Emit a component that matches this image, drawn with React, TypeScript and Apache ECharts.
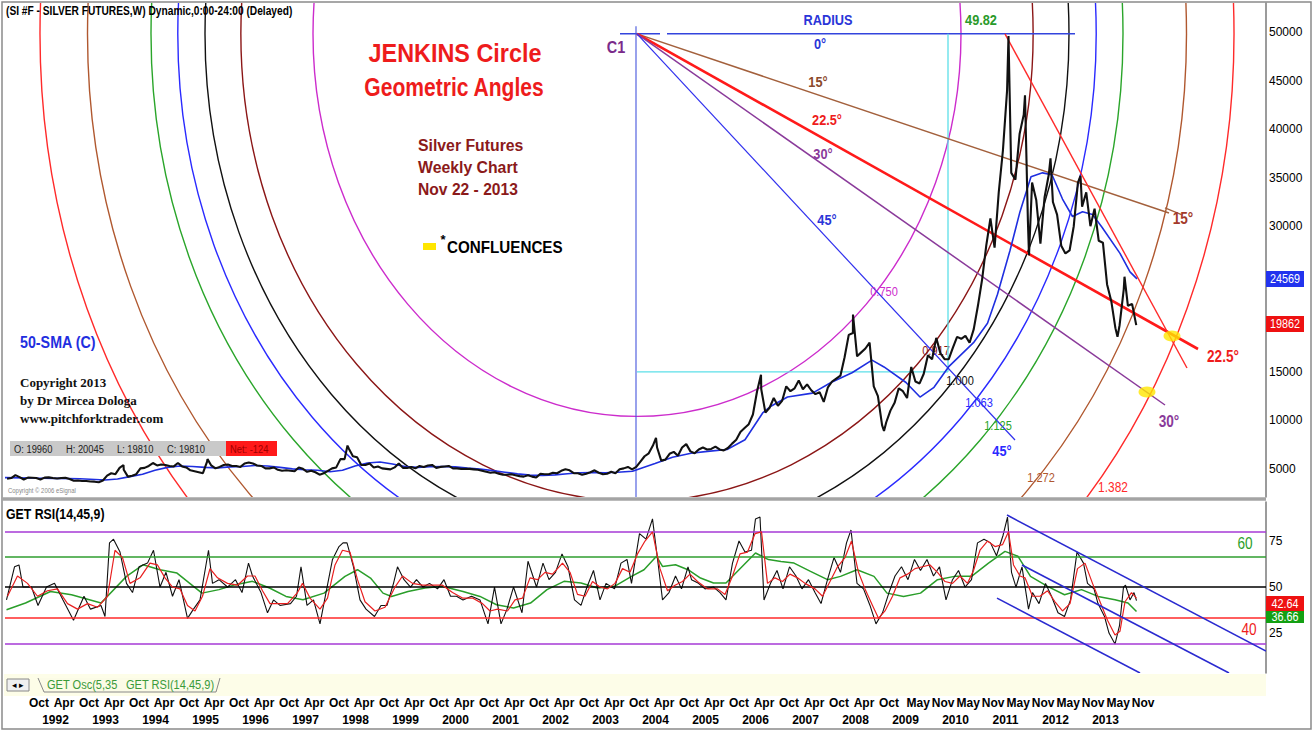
import React, { useEffect, useRef } from "react";
import * as echarts from "echarts";

// ---------------- DATA ----------------
// Silver futures, monthly closes (USD/oz) starting Apr 1991, ending Nov 2013
const PRICE_START = 1991.25;
const PRICE_MONTHLY = [
  3.98, 4.05, 4.35, 4.15, 3.9, 4.1, 4.08, 4.05, 3.9,
  4.1, 4.12, 4.05, 4.0, 4.05, 4.08, 3.95, 3.78, 3.8, 3.75, 3.75, 3.7,
  3.68, 3.62, 3.8, 4.3, 4.55, 4.45, 5.1, 4.9, 4.2, 4.3, 4.45, 5.05,
  5.1, 5.3, 5.6, 5.35, 5.45, 5.4, 5.3, 5.25, 5.6, 5.25, 5.15, 4.85,
  4.75, 4.65, 4.55, 5.75, 5.35, 5.05, 5.2, 5.4, 5.45, 5.3, 5.3, 5.2,
  5.55, 5.65, 5.55, 5.35, 5.3, 5.05, 5.05, 5.15, 4.9, 4.8, 4.85, 4.8,
  4.75, 5.15, 5.0, 4.7, 4.8, 4.65, 4.4, 4.55, 4.8, 5.05, 5.15, 6.0,
  6.0, 7.1, 6.3, 6.2, 5.4, 5.4, 5.55, 5.15, 5.25, 5.05, 5.0, 4.95,
  5.15, 5.55, 5.1, 5.1, 5.2, 5.05, 5.3, 5.2, 5.35, 5.4, 5.1, 5.2,
  5.25, 5.3, 5.05, 5.05, 5.0, 5.0, 5.0, 4.95, 4.9, 4.8, 4.7, 4.6,
  4.65, 4.5, 4.4, 4.4, 4.45, 4.35, 4.25, 4.2, 4.35, 4.2, 4.1, 4.5,
  4.45, 4.45, 4.6, 4.55, 4.8, 4.95, 4.85, 4.55, 4.55, 4.4, 4.5, 4.65,
  4.85, 4.6, 4.45, 4.5, 4.7, 4.55, 4.95, 5.05, 5.2, 4.95, 5.2, 5.75,
  6.3, 6.6, 7.4, 7.2, 5.85, 5.95, 6.55, 6.75, 6.35, 7.2, 7.55, 6.8,
  6.6, 7.0, 7.2, 7.0, 7.05, 7.3, 7.0, 6.9, 7.15, 7.6, 8.0, 8.8,
  9.2, 9.6, 10.6, 13.0, 13.2, 10.8, 11.3, 12.3, 11.5, 12.0, 13.5, 13.0,
  13.3, 14.1, 13.2, 13.7, 13.1, 12.7, 12.9, 11.9, 13.4, 14.0, 14.3, 14.6,
  16.5, 18.8, 19.0, 16.6, 17.0, 17.4, 18.0, 13.5, 12.5, 9.5, 9.8, 11.0,
  11.8, 13.3, 13.0, 12.3, 15.5, 14.0, 13.8, 14.8, 16.7, 16.3, 18.5, 16.9,
  16.3, 16.3, 17.5, 18.6, 18.4, 18.7, 18.0, 19.4, 21.8, 24.5, 28.0, 30.8,
  27.8, 33.5, 37.8, 44.0, 35.5, 34.8, 39.5, 41.5, 30.5, 34.5, 32.7, 28.2,
  33.0, 35.3, 32.5, 31.2, 28.0, 27.2, 27.5, 30.0, 34.5, 32.0, 33.5, 30.0,
  31.8, 28.5, 28.3, 24.0, 22.3, 19.5, 19.8, 23.5, 21.8, 22.0, 19.81,
];
// weekly extremes visible on the chart [decimal year, USD]
const PRICE_SPIKES: [number, number][] = [
  [1993.62, 5.4], [1995.3, 6.0], [1998.1, 7.4], [2004.27, 8.2], [2006.37, 14.7],
  [2008.21, 20.9], [2008.83, 8.9], [2011.32, 49.6], [2011.65, 43.5], [2011.73, 27.0],
  [2012.16, 37.0], [2012.76, 35.2], [2013.5, 18.6], [2013.64, 24.8],
];
// 50-week SMA (blue)
const SMA50: [number, number][] = [
  [1991.25, 4.1], [1991.75, 4.05], [1992.25, 4.02], [1992.75, 3.98], [1993.25, 3.85], [1993.5, 3.95],
  [1993.75, 4.2], [1994.0, 4.45], [1994.25, 4.85], [1994.5, 5.15], [1994.75, 5.3], [1995.0, 5.25],
  [1995.25, 5.15], [1995.5, 5.1], [1995.75, 5.2], [1996.0, 5.25], [1996.25, 5.35], [1996.5, 5.3],
  [1996.75, 5.15], [1997.0, 5.0], [1997.25, 4.9], [1997.5, 4.85], [1997.75, 4.7], [1998.0, 4.85],
  [1998.25, 5.3], [1998.5, 5.6], [1998.75, 5.7], [1999.0, 5.5], [1999.25, 5.25], [1999.5, 5.15],
  [1999.75, 5.22], [2000.0, 5.25], [2000.25, 5.2], [2000.5, 5.08], [2000.75, 4.98], [2001.0, 4.82],
  [2001.25, 4.65], [2001.5, 4.48], [2001.75, 4.35], [2002.0, 4.33], [2002.25, 4.38], [2002.5, 4.5],
  [2002.75, 4.6], [2003.0, 4.63], [2003.25, 4.6], [2003.5, 4.65], [2003.8, 4.75], [2004.25, 5.55],
  [2004.6, 6.2], [2004.97, 6.6], [2005.3, 6.8], [2005.69, 7.0], [2006.05, 8.0], [2006.41, 10.8],
  [2006.55, 11.4], [2006.9, 12.4], [2007.4, 12.8], [2007.77, 13.9], [2008.19, 14.9], [2008.59, 16.2],
  [2008.83, 15.5], [2009.27, 13.9], [2009.55, 12.4], [2009.83, 13.4], [2010.12, 15.5], [2010.62, 18.0],
  [2010.9, 20.0], [2011.1, 23.0], [2011.35, 27.5], [2011.55, 31.5], [2011.77, 35.1], [2012.0, 35.5],
  [2012.19, 35.3], [2012.4, 32.8], [2012.6, 31.0], [2012.8, 31.5], [2013.0, 31.2], [2013.19, 29.9],
  [2013.55, 27.2], [2013.75, 25.3], [2013.89, 24.57],
];
// RSI(14) black line
const RSI_MAIN: [number, number][] = [
  [1991.28, 43], [1991.44, 61], [1991.53, 62], [1991.61, 50], [1991.78, 50], [1991.91, 40], [1992.08, 50],
  [1992.24, 52], [1992.41, 43], [1992.62, 32], [1992.83, 45], [1992.96, 38], [1993.17, 40], [1993.25, 34],
  [1993.34, 74], [1993.42, 76], [1993.55, 69], [1993.68, 52], [1993.8, 47], [1993.93, 61], [1994.1, 63],
  [1994.22, 70], [1994.35, 50], [1994.47, 58], [1994.6, 45], [1994.73, 54], [1994.9, 33], [1995.02, 38],
  [1995.15, 43], [1995.32, 70], [1995.4, 52], [1995.53, 54], [1995.7, 50], [1995.86, 54], [1995.99, 47],
  [1996.12, 63], [1996.2, 56], [1996.37, 47], [1996.5, 36], [1996.62, 43], [1996.75, 40], [1996.96, 41],
  [1997.08, 45], [1997.17, 61], [1997.29, 40], [1997.42, 43], [1997.55, 30], [1997.67, 47], [1997.8, 65],
  [1997.93, 72], [1998.01, 74], [1998.09, 74], [1998.22, 61], [1998.35, 43], [1998.47, 38], [1998.64, 34],
  [1998.77, 40], [1998.89, 40], [1999.02, 52], [1999.1, 61], [1999.23, 54], [1999.36, 50], [1999.48, 54],
  [1999.61, 50], [1999.74, 52], [1999.9, 49], [2000.03, 54], [2000.16, 45], [2000.28, 45], [2000.41, 43],
  [2000.58, 45], [2000.75, 43], [2000.91, 30], [2001.04, 50], [2001.17, 30], [2001.29, 38], [2001.42, 50],
  [2001.59, 36], [2001.71, 64], [2001.88, 50], [2002.01, 63], [2002.13, 54], [2002.26, 58], [2002.39, 68],
  [2002.51, 61], [2002.64, 43], [2002.77, 40], [2002.89, 50], [2003.02, 59], [2003.15, 43], [2003.27, 52],
  [2003.44, 49], [2003.57, 63], [2003.69, 65], [2003.78, 52], [2003.94, 79], [2004.07, 76], [2004.2, 87],
  [2004.32, 61], [2004.4, 43], [2004.53, 47], [2004.66, 56], [2004.78, 49], [2004.91, 61], [2004.98, 54],
  [2005.12, 52], [2005.25, 49], [2005.42, 50], [2005.55, 47], [2005.67, 43], [2005.8, 63], [2005.93, 75],
  [2006.05, 69], [2006.18, 70], [2006.26, 87], [2006.35, 88], [2006.43, 43], [2006.56, 52], [2006.69, 59],
  [2006.81, 49], [2006.94, 61], [2007.07, 56], [2007.19, 49], [2007.32, 54], [2007.45, 47], [2007.57, 41],
  [2007.7, 54], [2007.83, 66], [2007.96, 58], [2008.08, 74], [2008.17, 81], [2008.29, 52], [2008.42, 49],
  [2008.55, 40], [2008.67, 30], [2008.8, 36], [2008.93, 47], [2009.05, 56], [2009.18, 61], [2009.31, 54],
  [2009.44, 65], [2009.56, 59], [2009.69, 65], [2009.82, 56], [2009.94, 61], [2010.07, 43], [2010.2, 54],
  [2010.32, 59], [2010.45, 50], [2010.58, 54], [2010.7, 74], [2010.83, 76], [2010.96, 74], [2011.08, 67],
  [2011.21, 78], [2011.3, 88], [2011.38, 58], [2011.47, 50], [2011.59, 61], [2011.72, 38], [2011.8, 47],
  [2011.93, 41], [2012.06, 52], [2012.18, 45], [2012.31, 36], [2012.44, 34], [2012.56, 43], [2012.69, 69],
  [2012.82, 63], [2012.9, 52], [2013.03, 49], [2013.11, 41], [2013.24, 34], [2013.33, 25], [2013.45, 19],
  [2013.54, 29], [2013.62, 50], [2013.66, 51], [2013.75, 43], [2013.83, 47], [2013.88, 42.64],
];
// red signal line
const RSI_FAST: [number, number][] = [
  [1991.3, 45], [1991.5, 56], [1991.7, 52], [1991.9, 45], [1992.1, 48], [1992.3, 49], [1992.5, 41], [1992.7, 38],
  [1992.9, 41], [1993.1, 39], [1993.3, 45], [1993.45, 70], [1993.6, 66], [1993.75, 52], [1993.95, 55], [1994.15, 63],
  [1994.3, 62], [1994.45, 55], [1994.6, 50], [1994.75, 49], [1994.9, 40], [1995.05, 37], [1995.2, 45], [1995.35, 60],
  [1995.5, 55], [1995.7, 52], [1995.9, 51], [1996.1, 56], [1996.25, 56], [1996.4, 48], [1996.55, 41], [1996.7, 41],
  [1996.9, 41], [1997.1, 47], [1997.2, 52], [1997.35, 44], [1997.55, 38], [1997.7, 44], [1997.85, 62], [1998.0, 70],
  [1998.15, 69], [1998.3, 54], [1998.45, 42], [1998.65, 37], [1998.85, 39], [1999.05, 50], [1999.2, 56], [1999.4, 52],
  [1999.6, 51], [1999.8, 51], [2000.0, 51], [2000.2, 47], [2000.4, 44], [2000.6, 44], [2000.8, 41], [2000.95, 37],
  [2001.1, 38], [2001.3, 37], [2001.45, 43], [2001.6, 44], [2001.75, 55], [2001.9, 54], [2002.05, 58], [2002.2, 57],
  [2002.4, 63], [2002.55, 58], [2002.7, 46], [2002.85, 45], [2003.0, 53], [2003.15, 50], [2003.3, 49], [2003.45, 52],
  [2003.6, 60], [2003.75, 58], [2003.9, 68], [2004.05, 75], [2004.2, 80], [2004.35, 60], [2004.5, 48], [2004.65, 51],
  [2004.8, 53], [2004.95, 57], [2005.1, 53], [2005.3, 49], [2005.5, 49], [2005.65, 46], [2005.8, 56], [2005.95, 68],
  [2006.1, 69], [2006.25, 79], [2006.38, 80], [2006.5, 52], [2006.65, 55], [2006.8, 53], [2006.95, 57], [2007.1, 55],
  [2007.25, 52], [2007.45, 49], [2007.6, 45], [2007.75, 53], [2007.9, 61], [2008.05, 66], [2008.18, 75], [2008.32, 58],
  [2008.45, 49], [2008.6, 40], [2008.72, 33], [2008.85, 37], [2009.0, 45], [2009.15, 55], [2009.3, 57], [2009.45, 60],
  [2009.6, 61], [2009.75, 62], [2009.9, 58], [2010.05, 53], [2010.2, 52], [2010.35, 56], [2010.5, 52], [2010.62, 59],
  [2010.75, 70], [2010.9, 75], [2011.05, 72], [2011.2, 73], [2011.32, 80], [2011.42, 62], [2011.55, 56], [2011.65, 55],
  [2011.8, 45], [2011.95, 45], [2012.1, 48], [2012.25, 42], [2012.4, 37], [2012.55, 41], [2012.7, 60], [2012.85, 63],
  [2013.0, 52], [2013.15, 42], [2013.3, 32], [2013.45, 24], [2013.55, 26], [2013.65, 42], [2013.78, 47], [2013.88, 44],
];
// green slow line
const RSI_SLOW: [number, number][] = [
  [1991.28, 37.7], [1991.66, 41.3], [1992.16, 47.6], [1992.58, 45.8], [1993.17, 41.3], [1993.68, 55.8], [1994.01, 62.1],
  [1994.35, 59.4], [1994.69, 57.6], [1995.02, 50.4], [1995.19, 46.7], [1995.53, 48.6], [1995.86, 51.3], [1996.2, 53.1],
  [1996.54, 49.5], [1996.87, 44.9], [1997.21, 43.1], [1997.63, 46.7], [1998.05, 55.8], [1998.3, 59.4], [1998.56, 54.9],
  [1998.81, 46.7], [1998.98, 44.9], [1999.31, 47.6], [1999.65, 49.5], [1999.99, 50.4], [2000.41, 47.6], [2000.75, 44.9],
  [2001.08, 40.4], [2001.42, 38.6], [2001.76, 41.3], [2002.09, 48.6], [2002.43, 53.1], [2002.77, 52.2], [2003.1, 49.5],
  [2003.44, 50.4], [2003.78, 55.8], [2004.03, 59.4], [2004.28, 66.7], [2004.4, 61.2], [2004.66, 62.1], [2004.91, 59.4],
  [2005.16, 54.9], [2005.42, 52.2], [2005.67, 52.2], [2005.93, 59.4], [2006.26, 68.5], [2006.52, 64.9], [2006.77, 63.9],
  [2007.03, 63.0], [2007.36, 58.5], [2007.7, 54.0], [2007.96, 55.8], [2008.29, 59.4], [2008.63, 55.8], [2008.89, 46.7],
  [2009.22, 44.9], [2009.56, 46.7], [2009.9, 54.0], [2010.24, 55.8], [2010.58, 55.8], [2010.92, 63.0], [2011.25, 69.4],
  [2011.51, 66.7], [2011.76, 55.8], [2012.1, 50.4], [2012.44, 45.8], [2012.78, 48.6], [2013.11, 44.9], [2013.45, 43.1],
  [2013.71, 41.3], [2013.88, 36.66],
];

const PRICE_TICKS = [5, 10, 15, 30, 35, 40, 45, 50];
const RSI_TICKS = [25, 50, 75];
const RSI_LEVELS: [number, string][] = [[80, "#a63ad6"], [66.5, "#2f9e2f"], [50, "#000000"], [33.5, "#ff2a2a"], [19, "#a63ad6"]];

const MONTH_TICKS: [number, string][] = [
  [1991.75, "Oct"], [1992.25, "Apr"], [1992.75, "Oct"], [1993.25, "Apr"], [1993.75, "Oct"], [1994.25, "Apr"],
  [1994.75, "Oct"], [1995.25, "Apr"], [1995.75, "Oct"], [1996.25, "Apr"], [1996.75, "Oct"], [1997.25, "Apr"],
  [1997.75, "Oct"], [1998.25, "Apr"], [1998.75, "Oct"], [1999.25, "Apr"], [1999.75, "Oct"], [2000.25, "Apr"],
  [2000.75, "Oct"], [2001.25, "Apr"], [2001.75, "Oct"], [2002.25, "Apr"], [2002.75, "Oct"], [2003.25, "Apr"],
  [2003.75, "Oct"], [2004.25, "Apr"], [2004.75, "Oct"], [2005.25, "Apr"], [2005.75, "Oct"], [2006.25, "Apr"],
  [2006.75, "Oct"], [2007.25, "Apr"], [2007.75, "Oct"], [2008.25, "Apr"], [2008.75, "Oct"], [2009.333, "May"],
  [2009.833, "Nov"], [2010.333, "May"], [2010.833, "Nov"], [2011.333, "May"], [2011.833, "Nov"], [2012.333, "May"],
  [2012.833, "Nov"], [2013.333, "May"], [2013.833, "Nov"],
];
const YEAR_TICKS: [number, string][] = [
  [1992, "1992"], [1993, "1993"], [1994, "1994"], [1995, "1995"], [1996, "1996"], [1997, "1997"], [1998, "1998"],
  [1999, "1999"], [2000, "2000"], [2001, "2001"], [2002, "2002"], [2003, "2003"], [2004, "2004"], [2005, "2005"],
  [2006, "2006"], [2007, "2007"], [2008, "2008"], [2009, "2009"], [2010, "2010"], [2011, "2011"], [2012, "2012"],
  [2013, "2013"],
];

// Jenkins geometry (data coordinates)
const C1: [number, number] = [2003.89, 49.82];
const RADIUS_YEARS = 8.64;
const RADIUS_USD = 52.55;
const JENKINS: [number, string][] = [
  [0.75, "#cc2ccc"], [0.917, "#8b1616"], [1.0, "#111111"], [1.063, "#2a2aff"],
  [1.125, "#2aa52a"], [1.272, "#b0582f"], [1.382, "#ff2a2a"],
];
type Seg = { from: [number, number]; to: [number, number]; color: string; w: number };
const PRICE_LINES: Seg[] = [
  { from: [2003.55, 49.82], to: [2004.35, 49.82], color: "#3344dd", w: 1.5 },
  { from: [2004.49, 49.82], to: [2012.65, 49.82], color: "#3344dd", w: 1.5 },
  { from: [2003.87, 50.6], to: [2003.87, 2.1], color: "#4455dd", w: 1.1 },
  { from: [2010.11, 49.82], to: [2010.11, 15.0], color: "#5cdfe8", w: 1.3 },
  { from: [2003.89, 15.0], to: [2010.11, 15.0], color: "#5cdfe8", w: 1.3 },
  { from: C1, to: [2014.53, 31.36], color: "#a3603c", w: 1.5 },
  { from: [2014.45, 31.9], to: [2014.78, 31.2], color: "#a3603c", w: 1.3 },
  { from: C1, to: [2015.11, 17.35], color: "#ff1a1a", w: 2.6 },
  { from: C1, to: [2014.45, 11.58], color: "#8a3a9a", w: 1.5 },
  { from: C1, to: [2011.45, 7.97], color: "#3030ee", w: 1.2 },
  { from: [2011.25, 49.82], to: [2014.89, 15.39], color: "#ff2a2a", w: 1.4 },
];
const CONFLUENCES: [number, number][] = [[2014.59, 18.69], [2014.09, 12.92]];
const RSI_CHANNEL: Seg[] = [
  { from: [2011.29, 89.1], to: [2016.47, 15.2], color: "#2a2ad0", w: 1.6 },
  { from: [2011.59, 62.0], to: [2015.73, 3.3], color: "#2a2ad0", w: 1.6 },
  { from: [2011.09, 44.0], to: [2013.95, 3.3], color: "#2a2ad0", w: 1.6 },
];

const X_MIN = 1991.25;
const X_MAX = 2016.47;
const MONTH_SHIFT = 0.18;
const YEAR_SHIFT = 0.26;

const SANS = "'Liberation Sans',Arial,sans-serif";
const SERIF = "'Liberation Serif','Times New Roman',serif";

function labelLookup(ticks: [number, string][], shift: number) {
  return (v: number) => {
    let best = "";
    let bd = 1e9;
    for (const [t, s] of ticks) {
      const d = Math.abs(t + shift - v);
      if (d < bd) { bd = d; best = s; }
    }
    return best;
  };
}

// text helper; sx condenses the face horizontally (narrow look)
function txt(text: string, x: number, y: number, fill: string, font: string, align = "center", sx = 0.85, z = 50) {
  return {
    type: "text", x, y, z, silent: true, scaleX: sx,
    style: { text, fill, font, textAlign: align, align, textVerticalAlign: "middle", verticalAlign: "middle" },
  };
}
function box(x: number, y: number, w: number, h: number, fill: string, z = 40) {
  return { type: "rect", z, silent: true, shape: { x, y, width: w, height: h }, style: { fill } };
}
function hline(x1: number, y1: number, x2: number, y2: number, stroke: string, w: number, z = 45) {
  return { type: "line", z, silent: true, shape: { x1, y1, x2, y2 }, style: { stroke, lineWidth: w } };
}

export default function App() {
  const ref = useRef<HTMLDivElement>(null);
  useEffect(() => {
    if (!ref.current) return;
    const chart = echarts.init(ref.current, null, { renderer: "svg" });

    const priceData: [number, number][] = PRICE_MONTHLY.map((v, i) => [PRICE_START + (i + 0.5) / 12, v] as [number, number])
      .concat(PRICE_SPIKES)
      .sort((a, b) => a[0] - b[0]);

    const segRender = (segs: Seg[], withJenkins: boolean) => (params: any, api: any) => {
      const children: any[] = [];
      if (withJenkins) {
        const c = api.coord(C1);
        const s = api.size([RADIUS_YEARS, RADIUS_USD], C1);
        for (const [k, color] of JENKINS) {
          children.push({
            type: "ellipse",
            shape: { cx: c[0], cy: c[1], rx: s[0] * k, ry: s[1] * k },
            style: { fill: "none", stroke: color, lineWidth: 1.4 },
          });
        }
      }
      for (const L of segs) {
        const p1 = api.coord(L.from);
        const p2 = api.coord(L.to);
        children.push({
          type: "line",
          shape: { x1: p1[0], y1: p1[1], x2: p2[0], y2: p2[1] },
          style: { stroke: L.color, lineWidth: L.w },
        });
      }
      return { type: "group", children };
    };

    const option: any = {
      animation: false,
      backgroundColor: "#ffffff",
      grid: [
        { left: 5, right: 47, top: 3, height: 494 },
        { left: 5, right: 47, top: 502, height: 171 },
      ],
      xAxis: [
        { type: "value", gridIndex: 0, min: X_MIN, max: X_MAX, show: false },
        {
          type: "value", gridIndex: 1, min: X_MIN, max: X_MAX,
          axisLine: { show: false }, axisTick: { show: false }, splitLine: { show: false },
          axisLabel: {
            customValues: MONTH_TICKS.map((m) => m[0] + MONTH_SHIFT),
            formatter: labelLookup(MONTH_TICKS, MONTH_SHIFT),
            showMinLabel: true, showMaxLabel: true,
            margin: 24, fontSize: 12, fontFamily: SANS, fontWeight: "bold", color: "#000",
          },
        },
        {
          type: "value", gridIndex: 1, min: X_MIN, max: X_MAX, position: "bottom",
          axisLine: { show: false }, axisTick: { show: false }, splitLine: { show: false },
          axisLabel: {
            customValues: YEAR_TICKS.map((m) => m[0] + YEAR_SHIFT),
            formatter: labelLookup(YEAR_TICKS, YEAR_SHIFT),
            showMinLabel: true, showMaxLabel: true,
            margin: 41, fontSize: 12, fontFamily: SANS, fontWeight: "bold", color: "#000",
          },
        },
      ],
      yAxis: [
        {
          type: "value", gridIndex: 0, position: "right", min: 2.1, max: 53,
          axisLine: { show: true, lineStyle: { color: "#7a7a7a", width: 1.5 } },
          axisTick: { show: false }, splitLine: { show: false },
          axisLabel: {
            customValues: PRICE_TICKS,
            formatter: (v: number) => String(Math.round(v * 1000)),
            showMinLabel: true, showMaxLabel: true,
            margin: 3, fontSize: 12, fontFamily: SANS, color: "#000",
          },
        },
        {
          type: "value", gridIndex: 1, position: "right", min: 3.3, max: 96.2,
          axisLine: { show: true, lineStyle: { color: "#7a7a7a", width: 1.5 } },
          axisTick: { show: false }, splitLine: { show: false },
          axisLabel: { customValues: RSI_TICKS, margin: 3, fontSize: 12, fontFamily: SANS, color: "#000" },
        },
      ],
      series: [
        {
          type: "custom", name: "jenkins", xAxisIndex: 0, yAxisIndex: 0, clip: true, silent: true, z: 1,
          data: [[C1[0], C1[1]]],
          renderItem: segRender(PRICE_LINES, true),
        },
        {
          type: "line", name: "SMA50", xAxisIndex: 0, yAxisIndex: 0, data: SMA50, showSymbol: false, z: 3,
          lineStyle: { color: "#1f2fe0", width: 1.6 }, silent: true,
        },
        {
          type: "line", name: "Silver", xAxisIndex: 0, yAxisIndex: 0, data: priceData, showSymbol: false, z: 4,
          lineStyle: { color: "#111111", width: 2.1 }, silent: true,
        },
        {
          type: "scatter", name: "confluences", xAxisIndex: 0, yAxisIndex: 0, data: CONFLUENCES,
          symbol: "circle", symbolSize: [17, 11], itemStyle: { color: "#ffe600" }, z: 6, silent: true,
        },
        {
          type: "line", name: "RSI slow", xAxisIndex: 1, yAxisIndex: 1, data: RSI_SLOW, showSymbol: false, z: 3,
          lineStyle: { color: "#2a9e2a", width: 1.5 }, silent: true,
          markLine: {
            silent: true, symbol: "none", label: { show: false },
            data: RSI_LEVELS.map(([v, c]) => ({ yAxis: v, lineStyle: { color: c, width: 1.6, type: "solid" } })),
          },
        },
        {
          type: "line", name: "RSI", xAxisIndex: 1, yAxisIndex: 1, data: RSI_MAIN, showSymbol: false, z: 4,
          lineStyle: { color: "#111111", width: 1.1 }, silent: true,
        },
        {
          type: "line", name: "RSI signal", xAxisIndex: 1, yAxisIndex: 1, data: RSI_FAST, showSymbol: false, z: 5,
          lineStyle: { color: "#e82020", width: 1.2 }, silent: true,
        },
        {
          type: "custom", name: "channel", xAxisIndex: 1, yAxisIndex: 1, clip: true, silent: true, z: 6,
          data: [[2012, 50]],
          renderItem: segRender(RSI_CHANNEL, false),
        },
      ],
      graphic: [
        // frame and panel separators
        { type: "rect", z: 60, silent: true, shape: { x: 2, y: 2, width: 1309, height: 727 }, style: { fill: "none", stroke: "#8a8a8a", lineWidth: 1.5 } },
        hline(2, 499, 1266, 499, "#a4a4a4", 3.5, 60),
        box(4, 674, 1262, 22, "#fdfde8", 30),
        // header
        txt("(SI #F - SILVER FUTURES,W) Dynamic,0:00-24:00 (Delayed)", 6, 11, "#000", `bold 12px ${SANS}`, "left", 0.85),
        // title block
        txt("JENKINS Circle", 455, 53, "#ee1c1c", `bold 26px ${SANS}`, "center", 0.9),
        txt("Geometric Angles", 454, 87, "#ee1c1c", `bold 26px ${SANS}`, "center", 0.81),
        txt("Silver Futures", 418, 145, "#8b1a1a", `bold 17px ${SANS}`, "left", 0.93),
        txt("Weekly Chart", 418, 167, "#8b1a1a", `bold 17px ${SANS}`, "left", 0.93),
        txt("Nov 22 - 2013", 418, 189, "#8b1a1a", `bold 17px ${SANS}`, "left", 0.92),
        box(423, 243, 13, 7, "#ffe600", 50),
        txt("*", 443, 239, "#000", `bold 13px ${SANS}`, "center", 1),
        txt("CONFLUENCES", 447, 247, "#000", `bold 16px ${SANS}`, "left", 0.95),
        txt("50-SMA (C)", 20, 342, "#1f2fe0", `bold 17px ${SANS}`, "left", 0.84),
        txt("Copyright 2013", 20, 382, "#111", `bold 13px ${SERIF}`, "left", 1),
        txt("by Dr Mircea Dologa", 20, 400, "#111", `bold 13px ${SERIF}`, "left", 1),
        txt("www.pitchforktrader.com", 20, 418, "#111", `bold 13px ${SERIF}`, "left", 1),
        // OHLC info box
        box(10, 441, 216, 15, "#c9c9c9", 50),
        box(226, 441, 51, 15, "#ff1a1a", 50),
        txt("O: 19960", 14, 449, "#222", `11px ${SANS}`, "left", 0.85, 51),
        txt("H: 20045", 66, 449, "#222", `11px ${SANS}`, "left", 0.85, 51),
        txt("L: 19810", 117, 449, "#222", `11px ${SANS}`, "left", 0.85, 51),
        txt("C: 19810", 167, 449, "#222", `11px ${SANS}`, "left", 0.85, 51),
        txt("Net: -124", 230, 449, "#a00000", `11px ${SANS}`, "left", 0.85, 51),
        txt("Copyright © 2006 eSignal", 8, 490, "#888", `7px ${SANS}`, "left", 0.85),
        // angle / radius labels
        txt("C1", 616, 47, "#7a2a8a", `bold 17px ${SANS}`),
        txt("RADIUS", 828, 20, "#2a35d8", `bold 15px ${SANS}`),
        txt("49.82", 981, 20, "#2a9a2a", `bold 15px ${SANS}`),
        txt("0°", 820, 44, "#2a35d8", `bold 15px ${SANS}`),
        txt("15°", 818, 82, "#8b4a2b", `bold 15px ${SANS}`),
        txt("22.5°", 827, 120, "#ee1c1c", `bold 15px ${SANS}`),
        txt("30°", 823, 154, "#8a3a9a", `bold 15px ${SANS}`),
        txt("45°", 827, 220, "#2a35d8", `bold 15px ${SANS}`),
        txt("0.750", 884, 292, "#cc2ccc", `13px ${SANS}`),
        txt("0.917", 936, 351, "#8b1616", `13px ${SANS}`, "center", 0.85, 0),
        txt("1.000", 960, 381, "#111", `13px ${SANS}`),
        txt("1.063", 979, 403, "#2a2aff", `13px ${SANS}`),
        txt("1.125", 998, 426, "#2aa52a", `13px ${SANS}`),
        txt("45°", 1002, 451, "#2a2aff", `bold 15px ${SANS}`),
        txt("1.272", 1041, 478, "#b0582f", `13px ${SANS}`),
        txt("1.382", 1113, 487, "#ff2a2a", `14px ${SANS}`),
        txt("15°", 1183, 219, "#a33a2a", `bold 16px ${SANS}`),
        txt("22.5°", 1223, 357, "#ee1c1c", `bold 16px ${SANS}`),
        txt("30°", 1169, 422, "#8a3a9a", `bold 16px ${SANS}`),
        // right axis value boxes
        box(1266, 271, 38, 16, "#2233ee", 55),
        txt("24569", 1285, 279, "#fff", `12px ${SANS}`, "center", 0.9, 56),
        box(1266, 316, 38, 16, "#ee1111", 55),
        txt("19862", 1285, 324, "#fff", `12px ${SANS}`, "center", 0.9, 56),
        // RSI panel annotations
        txt("GET RSI(14,45,9)", 6, 514, "#000", `bold 14px ${SANS}`, "left", 0.88),
        txt("60", 1245, 544, "#2a9e2a", `16px ${SANS}`),
        txt("40", 1249, 630, "#ee1c1c", `16px ${SANS}`),
        box(1266, 610, 38, 13, "#13a013", 55),
        txt("36.66", 1285, 617, "#fff", `12px ${SANS}`, "center", 0.9, 56),
        box(1266, 596, 38, 15, "#ee1111", 57),
        txt("42.64", 1285, 604, "#fff", `12px ${SANS}`, "center", 0.9, 58),
        // tab strip
        { type: "rect", z: 50, silent: true, shape: { x: 7, y: 679, width: 22, height: 12 }, style: { fill: "#f0f0f0", stroke: "#888", lineWidth: 1 } },
        txt("◂ ▸", 18, 685, "#000", `9px ${SANS}`, "center", 1),
        { type: "polyline", z: 50, silent: true, shape: { points: [[38, 678], [44, 692], [216, 692], [220, 678]] }, style: { fill: "#fbfbe6", stroke: "#888", lineWidth: 1 } },
        txt("GET Osc(5,35", 47, 685, "#3a9a3a", `13px ${SANS}`, "left", 0.85, 51),
        txt("GET RSI(14,45,9)", 126, 685, "#3a9a3a", `13px ${SANS}`, "left", 0.85, 51),
      ],
    };

    chart.setOption(option);
    return () => chart.dispose();
  }, []);

  return (
    <div
      ref={ref}
      style={{ position: "fixed", left: 0, top: 0, width: 1313, height: 731, background: "#fff" }}
    />
  );
}
